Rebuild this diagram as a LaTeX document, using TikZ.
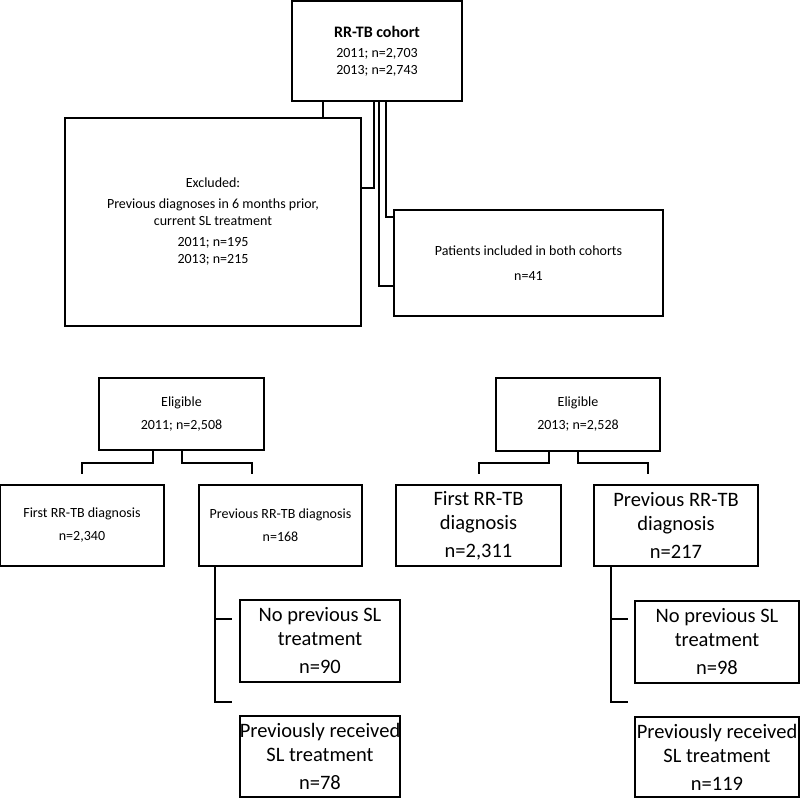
\documentclass[tikz,border=0pt]{standalone}
\usepackage{fontspec}
\setmainfont{Carlito}
\usetikzlibrary{positioning}

\begin{document}
\begin{tikzpicture}[x=1pt,y=-1pt,every node/.style={align=center},
    box/.style={draw,line width=1.6pt,inner sep=0pt},
    link/.style={draw,line width=1.6pt},
    small/.style={font=\fontsize{14}{17}\selectfont},
    big/.style={font=\fontsize{20.5}{24}\selectfont}]
  \useasboundingbox (0,0) rectangle (800,800);
  \tikzset{
    at box/.style n args={4}{minimum width=#3-#1,minimum height=#4-#2,
      at={(#1/2+#3/2,#2/2+#4/2)}} % Box from corners
  }

  % Top part
  \node[box,small,at box={292}{1}{462}{101}] (cohort)
    {{\fontsize{16}{19}\selectfont\bfseries RR-TB cohort}\\[3pt]2011; n=2,703\\2013; n=2,743};
  \node[box,small,at box={65}{118}{361}{326}] (excl)
    {Excluded:\\[4pt]Previous diagnoses in 6 months prior,\\current SL treatment\\[4pt]2011; n=195\\2013; n=215};
  \node[box,small,at box={394}{210}{663}{316}] (both)
    {Patients included in both cohorts\\[8pt]n=41};

  \coordinate (c1) at (323,101);
  \coordinate (c2) at (374,101);
  \coordinate (c3) at (379,101);
  \coordinate (c4) at (386,101);
  \draw[link] (c1) -- (c1 |- excl.north);
  \draw[link] (c2) |- (excl.east |- 0,188);
  \draw[link] (c4) |- (both.west |- 0,217);
  \draw[link] (c3) |- (both.west |- 0,286);

  % 2011 branch
  \node[box,small,at box={99}{378}{264}{450}] (elig11) {Eligible\\[6pt]2011; n=2,508};
  \node[box,small,at box={0}{485}{164}{566}] (first11) {First RR-TB diagnosis\\[6pt]n=2,340};
  \node[box,small,at box={199}{485}{362}{566}] (prev11) {Previous RR-TB diagnosis\\[6pt]n=168};
  \node[box,big,at box={240}{600}{400}{682}] (nosl11) {No previous SL\\treatment\\[4pt]n=90};
  \node[box,big,at box={240}{716}{400}{797}] (sl11) {Previously received\\SL treatment\\[4pt]n=78};

  \draw[link] (elig11.south -| 153,0) |- (82,463) -- (82,474);
  \draw[link] (elig11.south -| 182,0) |- (252,463) -- (252,474);
  \draw[link] (prev11.south -| 215,0) -- (215,702) -- (232,702);
  \draw[link] (215,619) -- (232,619);

  % 2013 branch
  \node[box,small,at box={496}{378}{660}{451}] (elig13) {Eligible\\[6pt]2013; n=2,528};
  \node[box,big,at box={396}{485}{561}{566}] (first13) {First RR-TB\\diagnosis\\[4pt]n=2,311};
  \node[box,big,at box={594}{485}{758}{566}] (prev13) {Previous RR-TB\\diagnosis\\[4pt]n=217};
  \node[box,big,at box={635}{601}{799}{683}] (nosl13) {No previous SL\\treatment\\[4pt]n=98};
  \node[box,big,at box={635}{717}{799}{797}] (sl13) {Previously received\\SL treatment\\[4pt]n=119};

  \draw[link] (elig13.south -| 549,0) |- (479,463) -- (479,474);
  \draw[link] (elig13.south -| 578,0) |- (648,463) -- (648,474);
  \draw[link] (prev13.south -| 611,0) -- (611,702) -- (628,702);
  \draw[link] (611,619) -- (628,619);
\end{tikzpicture}
\end{document}
